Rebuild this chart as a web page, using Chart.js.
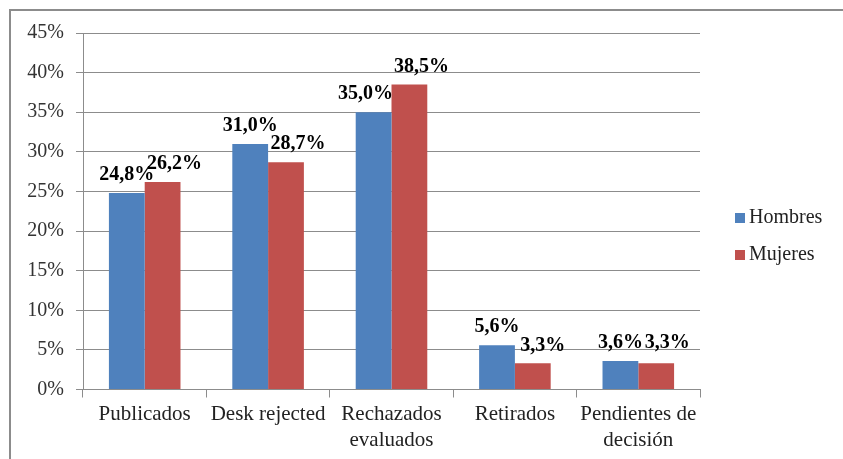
<!DOCTYPE html>
<html>
<head>
<meta charset="utf-8">
<script src="https://cdn.jsdelivr.net/npm/chart.js@4/dist/chart.umd.min.js"></script>
<style>
  html, body { margin: 0; padding: 0; background: #fff; }
  #wrap { position: relative; width: 843px; height: 459px; overflow: hidden; }
  #frame { position: absolute; left: 9px; top: 9px; width: 900px; height: 500px; border-left: 2px solid #8c8c8c; border-top: 2px solid #8c8c8c; }
  canvas { position: absolute; left: 0; top: 0; }
</style>
</head>
<body>
<div id="wrap">
  <div id="frame"></div>
  <canvas id="chart" width="843" height="459"></canvas>
</div>
<script>
const categories = ['Publicados', 'Desk rejected', ['Rechazados', 'evaluados'], 'Retirados', ['Pendientes de', 'decisión']];
const hombres = [24.8, 31.0, 35.0, 5.6, 3.6];
const mujeres = [26.2, 28.7, 38.5, 3.3, 3.3];
const yTicks = [0, 5, 10, 15, 20, 25, 30, 35, 40, 45];

// label nudges as placed in the original (x, y in px)
const labelShift = {
  0: [[0, 0], [0, 0], [-8, 0], [0, 0], [0, 0]],
  1: [[12, 0], [12, 0], [12, 0], [10, 0], [11, -3]]
};

const serif = "'Liberation Serif', 'DejaVu Serif', serif";

const labelsPlugin = {
  id: 'barLabels',
  afterDatasetsDraw(chart) {
    const ctx = chart.ctx;
    ctx.save();
    ctx.font = 'bold 20px ' + serif;
    ctx.fillStyle = '#000';
    ctx.textAlign = 'center';
    ctx.textBaseline = 'bottom';
    chart.data.datasets.forEach((ds, i) => {
      chart.getDatasetMeta(i).data.forEach((bar, j) => {
        const s = labelShift[i][j];
        const txt = ds.data[j].toFixed(1).replace('.', ',') + '%';
        ctx.fillText(txt, bar.x + s[0], bar.y - 8 + s[1]);
      });
    });
    ctx.restore();
  }
};

const legendPlugin = {
  id: 'sideLegend',
  afterDraw(chart) {
    const ctx = chart.ctx;
    ctx.save();
    ctx.font = '20px ' + serif;
    ctx.textBaseline = 'middle';
    chart.data.datasets.forEach((ds, i) => {
      const y = 218 + i * 37;
      ctx.fillStyle = ds.backgroundColor;
      ctx.fillRect(735, y - 5, 10, 10);
      ctx.fillStyle = '#222';
      ctx.fillText(ds.label, 749, y);
    });
    ctx.restore();
  }
};

new Chart(document.getElementById('chart'), {
  type: 'bar',
  data: {
    labels: categories,
    datasets: [
      { label: 'Hombres', data: hombres, backgroundColor: '#4F81BD' },
      { label: 'Mujeres', data: mujeres, backgroundColor: '#C0504D' }
    ]
  },
  options: {
    responsive: false,
    animation: false,
    layout: { padding: { top: 33, right: 143, bottom: 1, left: 0 } },
    datasets: { bar: { categoryPercentage: 0.58, barPercentage: 1.0 } },
    plugins: {
      legend: { display: false },
      tooltip: { enabled: false }
    },
    scales: {
      x: {
        grid: { offset: true, drawOnChartArea: false, drawTicks: true, tickLength: 8, color: '#8c8c8c' },
        border: { color: '#8c8c8c', width: 1 },
        ticks: { color: '#222', font: { family: serif, size: 21, lineHeight: 1.25 }, padding: 4, maxRotation: 0, autoSkip: false }
      },
      y: {
        min: 0,
        max: 45,
        afterBuildTicks(scale) { scale.ticks = yTicks.map(v => ({ value: v })); },
        afterFit(scale) { scale.width = 83; },
        grid: { color: '#8c8c8c', tickLength: 7 },
        border: { color: '#8c8c8c', width: 1 },
        ticks: { color: '#333', font: { family: serif, size: 20 }, padding: 12, callback: v => v + '%' }
      }
    }
  },
  plugins: [labelsPlugin, legendPlugin]
});
</script>
</body>
</html>
